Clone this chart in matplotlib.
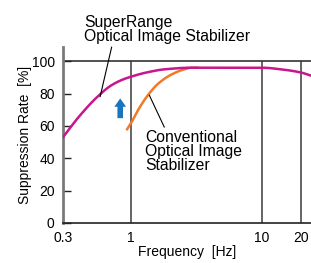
import matplotlib
matplotlib.use("Agg")
import matplotlib.pyplot as plt
import numpy as np

# Data
super_f = [0.3, 0.4, 0.55, 0.7, 0.85, 1.0, 1.3, 1.8, 2.9, 5.0, 10.0, 14.0, 20.0, 24.0]
super_v = [53, 66, 78, 85, 88.5, 90.5, 93, 95, 96, 96, 96, 95, 93, 91]
conv_f = [0.93, 1.0, 1.15, 1.37, 1.6, 2.0, 2.5, 2.9, 3.2]
conv_v = [58, 62, 71, 80, 86, 91.5, 94.8, 96, 96]
xticks = [0.3, 1, 10, 20]
xticklabels = ["0.3", "1", "10", "20"]
yticks = [0, 20, 40, 60, 80, 100]
grid_x = [1, 10, 20]

plt.rcParams['font.family'] = ['Liberation Sans', 'DejaVu Sans']


def pchip(x, y, xs):
    x = np.asarray(x, float); y = np.asarray(y, float)
    h = np.diff(x); d = np.diff(y) / h
    m = np.zeros_like(y)
    for k in range(1, len(y) - 1):
        if d[k-1] * d[k] <= 0:
            m[k] = 0
        else:
            w1 = 2*h[k] + h[k-1]; w2 = h[k] + 2*h[k-1]
            m[k] = (w1 + w2) / (w1/d[k-1] + w2/d[k])
    m[0] = d[0]; m[-1] = d[-1]
    out = np.empty_like(xs)
    for i, xv in enumerate(xs):
        k = min(max(np.searchsorted(x, xv) - 1, 0), len(h) - 1)
        t = (xv - x[k]) / h[k]
        h00 = 2*t**3 - 3*t**2 + 1; h10 = t**3 - 2*t**2 + t
        h01 = -2*t**3 + 3*t**2; h11 = t**3 - t**2
        out[i] = h00*y[k] + h10*h[k]*m[k] + h01*y[k+1] + h11*h[k]*m[k+1]
    return out


def smooth(f, v, n=200):
    lf = np.log10(f)
    xs = np.linspace(lf[0], lf[-1], n)
    return 10**xs, pchip(lf, v, xs)


fig = plt.figure(figsize=(3.11, 2.63), dpi=100)
ax = fig.add_axes([63/311, 40/263, 248/311, 176/263])
ax.set_xscale('log')
ax.set_xlim(0.3, 23.8)
ax.set_ylim(0, 108.8)

# grid
ax.vlines(grid_x, 0, 100, colors='#4a4a4a', lw=1.2, zorder=1)
ax.axhline(100, color='#333333', lw=1.2, zorder=1)

cx, cy = smooth(conv_f, conv_v)
ax.plot(cx, cy, color='#f07a28', lw=1.8, zorder=3)
sx, sy = smooth(super_f, super_v)
ax.plot(sx, sy, color='#c8168c', lw=1.8, zorder=4)

for s in ['top', 'right']:
    ax.spines[s].set_visible(False)
ax.spines['left'].set_color('#7a7a7a')
ax.spines['left'].set_linewidth(2)
ax.spines['bottom'].set_color('#222222')
ax.spines['bottom'].set_linewidth(1.2)

ax.set_xticks(xticks)
ax.set_xticklabels(xticklabels)
ax.xaxis.set_minor_locator(matplotlib.ticker.NullLocator())
ax.tick_params(axis='x', length=0, labelsize=10, pad=6)
ax.set_yticks(yticks)
ax.tick_params(axis='y', direction='in', length=6, width=1, color='#222222', labelsize=10, pad=6)

ax.set_xlabel('Frequency  [Hz]', fontsize=10, labelpad=0)
ax.set_ylabel('Suppression Rate  [%]', fontsize=10, labelpad=0)

# annotations
ax.annotate('SuperRange\nOptical Image Stabilizer', xy=(0.577, 78), xytext=(0.435, 110.5),
            textcoords='data', fontsize=11.3, ha='left', va='bottom', linespacing=0.9,
            arrowprops=dict(arrowstyle='-', color='black', lw=0.8,
                            shrinkA=0, shrinkB=0, relpos=(0.17, 0)),
            annotation_clip=False, zorder=5)
ax.annotate('Conventional\nOptical Image\nStabilizer', xy=(1.375, 79), xytext=(1.28, 57.5),
            textcoords='data', fontsize=11.3, ha='left', va='top', linespacing=0.9,
            arrowprops=dict(arrowstyle='-', color='black', lw=0.8,
                            shrinkA=0, shrinkB=0, relpos=(0.21, 1)),
            zorder=5)

# blue arrow
ax.annotate('', xy=(0.823, 77), xytext=(0.823, 64.8),
            arrowprops=dict(arrowstyle='simple,head_width=0.85,head_length=0.6,tail_width=0.4',
                            color='#1a75bf', lw=0, shrinkA=0, shrinkB=0), zorder=5)

fig.savefig('out.png', dpi=100)
